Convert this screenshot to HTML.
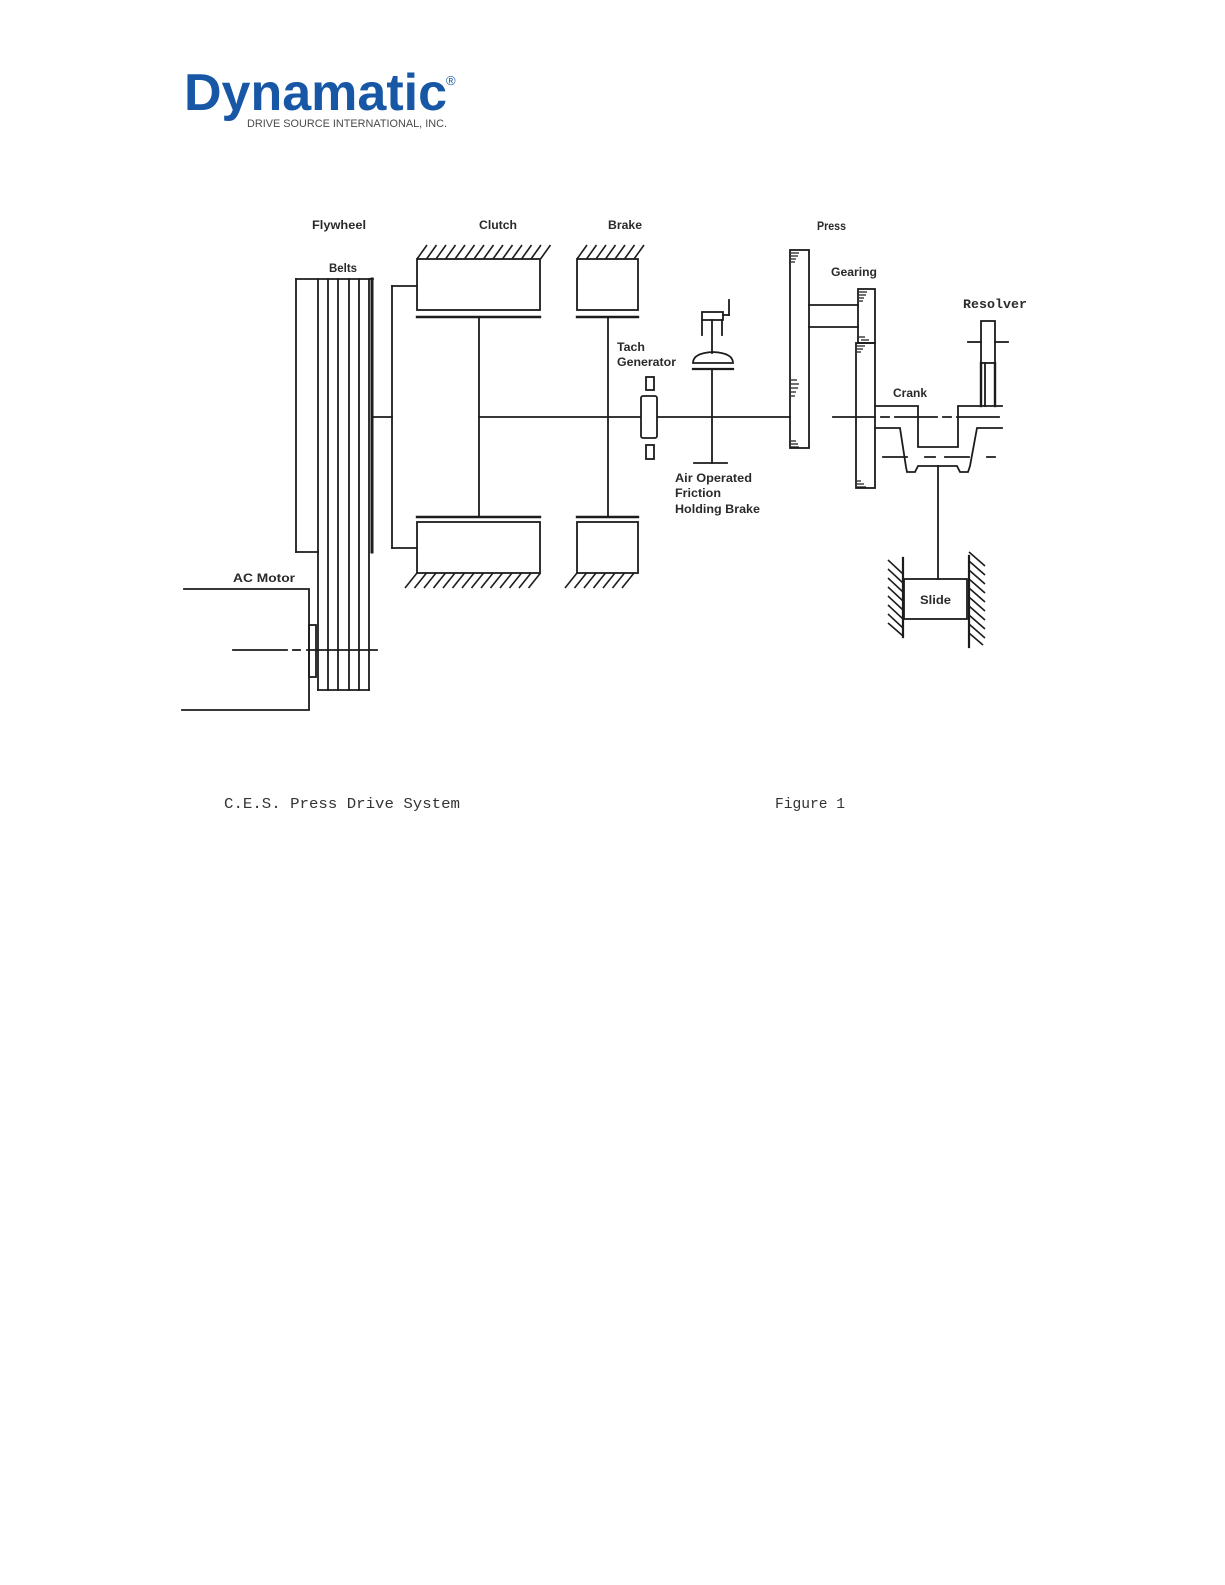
<!DOCTYPE html>
<html>
<head>
<meta charset="utf-8">
<style>
  html, body { margin: 0; padding: 0; background: #ffffff; }
  svg { display: block; }
</style>
</head>
<body>
<svg width="1225" height="1585" viewBox="0 0 1225 1585" xmlns="http://www.w3.org/2000/svg">
  <rect x="0" y="0" width="1225" height="1585" fill="#ffffff"/>

  <!-- Logo -->
  <text x="184" y="110" font-family="'Liberation Sans', sans-serif" font-weight="bold" font-size="52" fill="#1757a6" textLength="263" lengthAdjust="spacingAndGlyphs">Dynamatic</text>
  <text x="446" y="85" font-family="'Liberation Sans', sans-serif" font-size="13" fill="#1757a6">®</text>
  <text x="247" y="127" font-family="'Liberation Sans', sans-serif" font-size="11" fill="#4a4a4a" textLength="200" lengthAdjust="spacingAndGlyphs">DRIVE SOURCE INTERNATIONAL, INC.</text>

  <g stroke="#1c1c1c" stroke-width="1.8" fill="none" stroke-linecap="square">
    <!-- Flywheel -->
    <line x1="296" y1="279" x2="373" y2="279"/>
    <line x1="296" y1="279" x2="296" y2="552"/>
    <line x1="296" y1="552" x2="318" y2="552"/>
    <line x1="372" y1="279" x2="372" y2="552" stroke-width="3"/>
    <!-- Belts -->
    <line x1="318" y1="279" x2="318" y2="690"/>
    <line x1="328" y1="279" x2="328" y2="690"/>
    <line x1="338" y1="279" x2="338" y2="690"/>
    <line x1="349" y1="279" x2="349" y2="690"/>
    <line x1="359" y1="279" x2="359" y2="690"/>
    <line x1="369" y1="279" x2="369" y2="690"/>
    <line x1="318" y1="690" x2="369" y2="690"/>

    <!-- Flywheel to clutch connector -->
    <line x1="373" y1="417" x2="392" y2="417"/>
    <line x1="392" y1="286" x2="392" y2="548"/>
    <line x1="392" y1="286" x2="417" y2="286"/>
    <line x1="392" y1="548" x2="417" y2="548"/>

    <!-- Clutch top -->
    <rect x="417" y="259" width="123" height="51"/>
    <line x1="417" y1="317" x2="540" y2="317" stroke-width="2.4"/>
    <!-- Clutch bottom -->
    <rect x="417" y="522" width="123" height="51"/>
    <line x1="417" y1="517" x2="540" y2="517" stroke-width="2.4"/>
    <line x1="479" y1="317" x2="479" y2="517"/>

    <!-- Brake top -->
    <rect x="577" y="259" width="61" height="51"/>
    <line x1="577" y1="317" x2="638" y2="317" stroke-width="2.4"/>
    <!-- Brake bottom -->
    <rect x="577" y="522" width="61" height="51"/>
    <line x1="577" y1="517" x2="638" y2="517" stroke-width="2.4"/>
    <line x1="608" y1="317" x2="608" y2="517"/>

    <!-- Main shaft -->
    <line x1="479" y1="417" x2="790" y2="417"/>

    <!-- Tach generator -->
    <rect x="646" y="377" width="8" height="13" fill="#fff"/>
    <rect x="641" y="396" width="16" height="42" rx="2" fill="#fff"/>
    <rect x="646" y="445" width="8" height="14" fill="#fff"/>

    <!-- Air operated friction holding brake -->
    <rect x="702" y="312" width="21" height="8"/>
    <line x1="702" y1="320" x2="702" y2="335"/>
    <line x1="722" y1="320" x2="722" y2="335"/>
    <line x1="712" y1="320" x2="712" y2="353"/>
    <line x1="723" y1="315" x2="729" y2="315"/>
    <line x1="729" y1="315" x2="729" y2="300"/>
    <path d="M693 363 L733 363 Q733 353 713 352 Q693 353 693 363 Z"/>
    <line x1="693" y1="369" x2="733" y2="369" stroke-width="2.2"/>
    <line x1="712" y1="369" x2="712" y2="463"/>
    <line x1="694" y1="463" x2="727" y2="463"/>

    <!-- Press gear -->
    <rect x="790" y="250" width="19" height="198"/>
    <line x1="809" y1="305" x2="858" y2="305"/>
    <line x1="809" y1="327" x2="858" y2="327"/>
    <!-- Gearing gear -->
    <rect x="858" y="289" width="17" height="54"/>
    <rect x="856" y="343" width="19" height="145"/>

    <!-- Crank -->
    <polyline points="875,406 918,406 918,447 958,447 958,406 1002,406"/>
    <polyline points="875,428 900,428 906,467 907,472 915,472 918,466 957,466 960,472 968,472 970,466 977,428 1002,428"/>
    <line x1="833" y1="417" x2="1002" y2="417" stroke-dasharray="42 6 8 6"/>
    <line x1="883" y1="457" x2="995" y2="457" stroke-dasharray="24 18 10 10"/>
    <line x1="938" y1="466" x2="938" y2="579"/>

    <!-- Resolver -->
    <rect x="981" y="321" width="14" height="42"/>
    <line x1="968" y1="342" x2="981" y2="342"/>
    <line x1="995" y1="342" x2="1008" y2="342"/>
    <line x1="981" y1="363" x2="981" y2="406" stroke-width="2.4"/>
    <line x1="985" y1="363" x2="985" y2="406"/>
    <line x1="995" y1="363" x2="995" y2="406" stroke-width="2.4"/>

    <!-- Slide -->
    <rect x="904" y="579" width="63" height="40"/>
    <line x1="903" y1="558" x2="903" y2="637" stroke-width="2.2"/>
    <line x1="969" y1="556" x2="969" y2="647" stroke-width="2.2"/>

    <!-- AC Motor -->
    <polyline points="184,589 309,589 309,710 182,710"/>
    <rect x="309" y="625" width="7" height="52"/>
    <line x1="233" y1="650" x2="287" y2="650"/>
    <line x1="293" y1="650" x2="300" y2="650"/>
    <line x1="307" y1="650" x2="377" y2="650"/>
  </g>

  <!-- Hatching -->
  <g stroke="#1c1c1c" stroke-width="1.6" fill="none">
    <!-- clutch top -->
    <path d="M417 259 l10 -14 M426.5 259 l10 -14 M436 259 l10 -14 M445.5 259 l10 -14 M455 259 l10 -14 M464.5 259 l10 -14 M474 259 l10 -14 M483.5 259 l10 -14 M493 259 l10 -14 M502.5 259 l10 -14 M512 259 l10 -14 M521.5 259 l10 -14 M531 259 l10 -14 M540.5 259 l10 -14"/>
    <!-- brake top -->
    <path d="M577 259 l10 -14 M586.5 259 l10 -14 M596 259 l10 -14 M605.5 259 l10 -14 M615 259 l10 -14 M624.5 259 l10 -14 M634 259 l10 -14"/>
    <!-- clutch bottom -->
    <path d="M417 573 l-12 15 M426.5 573 l-12 15 M436 573 l-12 15 M445.5 573 l-12 15 M455 573 l-12 15 M464.5 573 l-12 15 M474 573 l-12 15 M483.5 573 l-12 15 M493 573 l-12 15 M502.5 573 l-12 15 M512 573 l-12 15 M521.5 573 l-12 15 M531 573 l-12 15 M540.5 573 l-12 15"/>
    <!-- brake bottom -->
    <path d="M577 573 l-12 15 M586.5 573 l-12 15 M596 573 l-12 15 M605.5 573 l-12 15 M615 573 l-12 15 M624.5 573 l-12 15 M634 573 l-12 15"/>
    <!-- slide left wall -->
    <path d="M888 560 l15 14 M888 569 l15 14 M888 578 l15 14 M888 587 l15 14 M888 596 l15 14 M888 605 l15 14 M888 614 l15 14 M888 623 l15 13"/>
    <!-- slide right wall -->
    <path d="M969 552 l16 14 M969 561 l16 14 M969 570 l16 14 M969 579 l16 14 M969 588 l16 14 M969 597 l16 14 M969 606 l16 14 M969 615 l16 14 M969 624 l16 14 M969 633 l14 12"/>
  </g>

  <!-- gear tooth marks -->
  <g stroke="#1c1c1c" stroke-width="1.2" fill="none">
    <path d="M791 253 h8 M791 256 h7 M791 259 h5 M791 262 h4"/>
    <path d="M791 380 h6 M791 384 h8 M791 388 h7 M791 392 h5 M791 396 h4"/>
    <path d="M791 441 h5 M791 444 h7 M791 447 h8"/>
    <path d="M859 292 h8 M859 295 h7 M859 298 h5 M859 301 h4"/>
    <path d="M859 337 h6 M861 340 h8 M857 346 h8 M857 349 h6 M857 352 h4"/>
    <path d="M857 481 h4 M857 484 h7 M857 487 h9"/>
  </g>

  <!-- Labels -->
  <g font-family="'Liberation Sans', sans-serif" font-weight="bold" font-size="12" fill="#2a2a2a">
    <text x="312" y="229" textLength="54" lengthAdjust="spacingAndGlyphs">Flywheel</text>
    <text x="479" y="229" textLength="38" lengthAdjust="spacingAndGlyphs">Clutch</text>
    <text x="608" y="229" textLength="34" lengthAdjust="spacingAndGlyphs">Brake</text>
    <text x="329" y="272" textLength="28" lengthAdjust="spacingAndGlyphs">Belts</text>
    <text x="817" y="230" textLength="29" lengthAdjust="spacingAndGlyphs">Press</text>
    <text x="831" y="276" textLength="46" lengthAdjust="spacingAndGlyphs">Gearing</text>
    <text x="617" y="351" textLength="28" lengthAdjust="spacingAndGlyphs">Tach</text>
    <text x="617" y="366" textLength="59" lengthAdjust="spacingAndGlyphs">Generator</text>
    <text x="675" y="482" textLength="77" lengthAdjust="spacingAndGlyphs">Air Operated</text>
    <text x="675" y="497" textLength="46" lengthAdjust="spacingAndGlyphs">Friction</text>
    <text x="675" y="513" textLength="85" lengthAdjust="spacingAndGlyphs">Holding Brake</text>
    <text x="893" y="397" textLength="34" lengthAdjust="spacingAndGlyphs">Crank</text>
    <text x="920" y="604" textLength="31" lengthAdjust="spacingAndGlyphs">Slide</text>
    <text x="233" y="582" textLength="62" lengthAdjust="spacingAndGlyphs">AC Motor</text>
  </g>
  <text x="963" y="308" font-family="'Liberation Mono', monospace" font-weight="bold" font-size="13" fill="#2a2a2a" textLength="64" lengthAdjust="spacingAndGlyphs">Resolver</text>

  <!-- Caption -->
  <g font-family="'Liberation Mono', monospace" font-size="15" fill="#333">
    <text x="224" y="808" textLength="236" lengthAdjust="spacingAndGlyphs">C.E.S. Press Drive System</text>
    <text x="775" y="808" textLength="70" lengthAdjust="spacingAndGlyphs">Figure 1</text>
  </g>
</svg>
</body>
</html>
